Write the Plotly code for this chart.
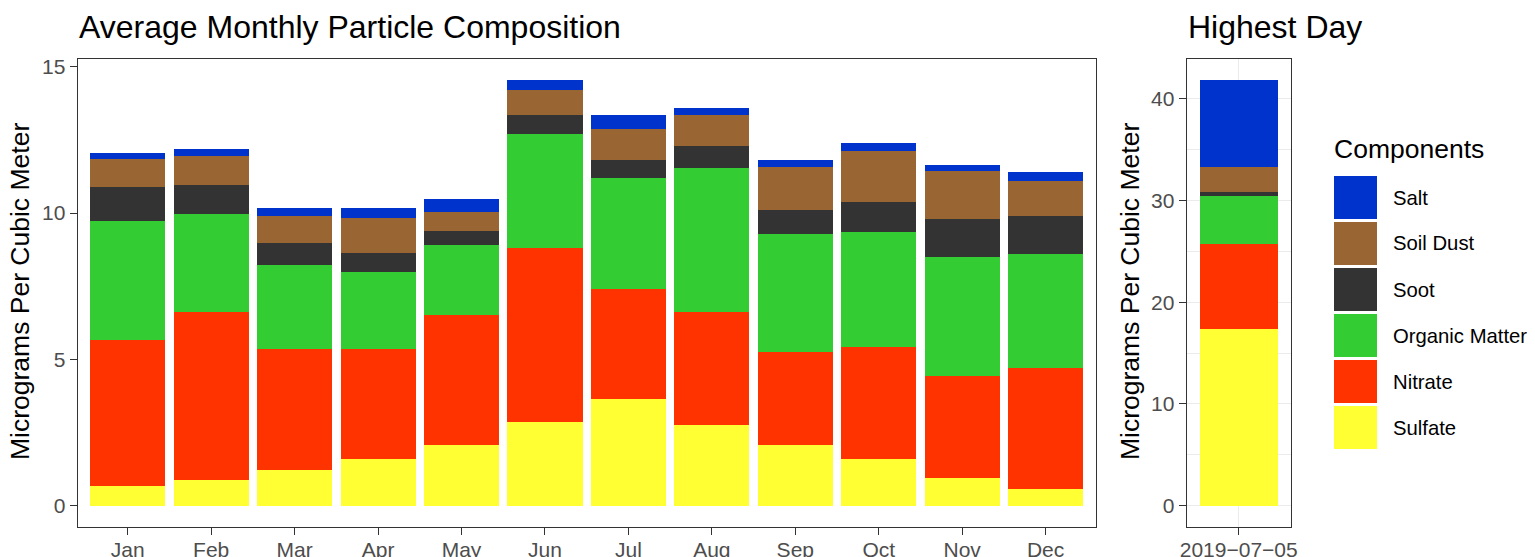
import plotly.graph_objects as go
from plotly.subplots import make_subplots

PAGE_PAD = 8  # browser body margin around the plot div
W, H = 1535 - PAGE_PAD, 557 - PAGE_PAD

months = ['Jan', 'Feb', 'Mar', 'Apr', 'May', 'Jun',
          'Jul', 'Aug', 'Sep', 'Oct', 'Nov', 'Dec']

# monthly averages, micrograms per cubic meter
sulfate = [0.68, 0.87, 1.22, 1.59, 2.07, 2.85, 3.64, 2.76, 2.07, 1.59, 0.94, 0.57]
nitrate = [4.97, 5.76, 4.15, 3.75, 4.46, 5.97, 3.78, 3.85, 3.17, 3.85, 3.48, 4.12]
organic = [4.09, 3.34, 2.86, 2.66, 2.39, 3.88, 3.79, 4.94, 4.06, 3.93, 4.09, 3.92]
soot = [1.16, 0.99, 0.75, 0.65, 0.48, 0.65, 0.61, 0.74, 0.82, 1.02, 1.29, 1.29]
soil = [0.95, 0.99, 0.92, 1.19, 0.64, 0.85, 1.06, 1.06, 1.46, 1.74, 1.64, 1.20]
salt = [0.20, 0.24, 0.27, 0.33, 0.45, 0.34, 0.47, 0.24, 0.24, 0.27, 0.21, 0.31]

# the single highest day
high_day = ['2019\u221207\u221205']
high_values = [17.4, 8.3, 4.7, 0.4, 2.5, 8.5]

components = ['Sulfate', 'Nitrate', 'Organic Matter', 'Soot', 'Soil Dust', 'Salt']
colors = ['#FFFF33', '#FF3300', '#33CC33', '#333333', '#996633', '#0033CC']
monthly = [sulfate, nitrate, organic, soot, soil, salt]

FONT = 'Liberation Sans, Arial, sans-serif'


def px_x(p):
    return (p - PAGE_PAD) / W


def px_y(p):
    return 1 - (p - PAGE_PAD) / H


fig = make_subplots(rows=1, cols=2)

for name, color, vals, hv in zip(components, colors, monthly, high_values):
    fig.add_trace(go.Bar(x=months, y=vals, name=name, marker_color=color,
                         marker_line_width=0, showlegend=False), row=1, col=1)
    fig.add_trace(go.Bar(x=high_day, y=[hv], name=name, marker_color=color,
                         marker_line_width=0, showlegend=False), row=1, col=2)

# ggplot style 5% expansion
left_max = max(sum(v) for v in zip(*monthly))
right_max = sum(high_values)

axis_common = dict(
    showline=True, mirror=True, linecolor='#333333', linewidth=1.2,
    ticks='outside', ticklen=7, tickwidth=1.3, tickcolor='#333333',
    tickfont=dict(family=FONT, size=21, color='#4D4D4D'),
    zeroline=False, automargin=False,
)

fig.update_xaxes(axis_common)
fig.update_yaxes(axis_common)
fig.update_xaxes(ticklabelstandoff=-3)

fig.update_xaxes(domain=[px_x(77.7), px_x(1095.7)], range=[-0.6, 11.6],
                 showgrid=False, row=1, col=1)
fig.update_yaxes(domain=[px_y(527), px_y(59)],
                 range=[-0.05 * left_max, 1.05 * left_max],
                 tickvals=[0, 5, 10, 15], showgrid=False, row=1, col=1)
fig.update_xaxes(domain=[px_x(1186.7), px_x(1290.7)], range=[-0.6, 0.6],
                 showgrid=True, gridcolor='#EBEBEB', gridwidth=1.2,
                 row=1, col=2)
fig.update_yaxes(domain=[px_y(527), px_y(59)],
                 range=[-0.05 * right_max, 1.05 * right_max],
                 tickvals=[0, 10, 20, 30, 40], showgrid=True,
                 gridcolor='#EBEBEB', gridwidth=1.2,
                 minor=dict(tickvals=[5, 15, 25, 35], showgrid=True,
                            gridcolor='#EBEBEB', gridwidth=0.6, ticks=''),
                 row=1, col=2)

annotations = [
    dict(text='Average Monthly Particle Composition', x=px_x(77), y=px_y(27),
         xanchor='left', yanchor='middle', font=dict(size=32, color='black')),
    dict(text='Highest Day', x=px_x(1186), y=px_y(27),
         xanchor='left', yanchor='middle', font=dict(size=32, color='black')),
    dict(text='Micrograms Per Cubic Meter', x=px_x(20), y=px_y(292),
         textangle=-90, xanchor='center', yanchor='middle',
         font=dict(size=26.5, color='black')),
    dict(text='Micrograms Per Cubic Meter', x=px_x(1130), y=px_y(292),
         textangle=-90, xanchor='center', yanchor='middle',
         font=dict(size=26.5, color='black')),
    dict(text='Components', x=px_x(1332), y=px_y(149),
         xanchor='left', yanchor='middle', font=dict(size=26.5, color='black')),
]

# hand-drawn legend with large ggplot-like keys, Salt on top
shapes = []
for i, (name, color) in enumerate(zip(components[::-1], colors[::-1])):
    top = 176 + 46 * i
    shapes.append(dict(type='rect', xref='paper', yref='paper',
                       x0=px_x(1334), x1=px_x(1377),
                       y0=px_y(top + 43), y1=px_y(top),
                       fillcolor=color, line=dict(width=0)))
    annotations.append(dict(text=name, x=px_x(1390.5), y=px_y(top + 21.5),
                            xanchor='left', yanchor='middle',
                            font=dict(size=20.3, color='black')))

for a in annotations:
    a.update(xref='paper', yref='paper', showarrow=False)
    a['font']['family'] = FONT

fig.update_layout(
    width=W, height=H,
    margin=dict(l=0, r=0, t=0, b=0),
    barmode='stack', bargap=0.1,
    plot_bgcolor='white', paper_bgcolor='white',
    font=dict(family=FONT),
    annotations=annotations, shapes=shapes,
)

fig.write_html('out.html')
